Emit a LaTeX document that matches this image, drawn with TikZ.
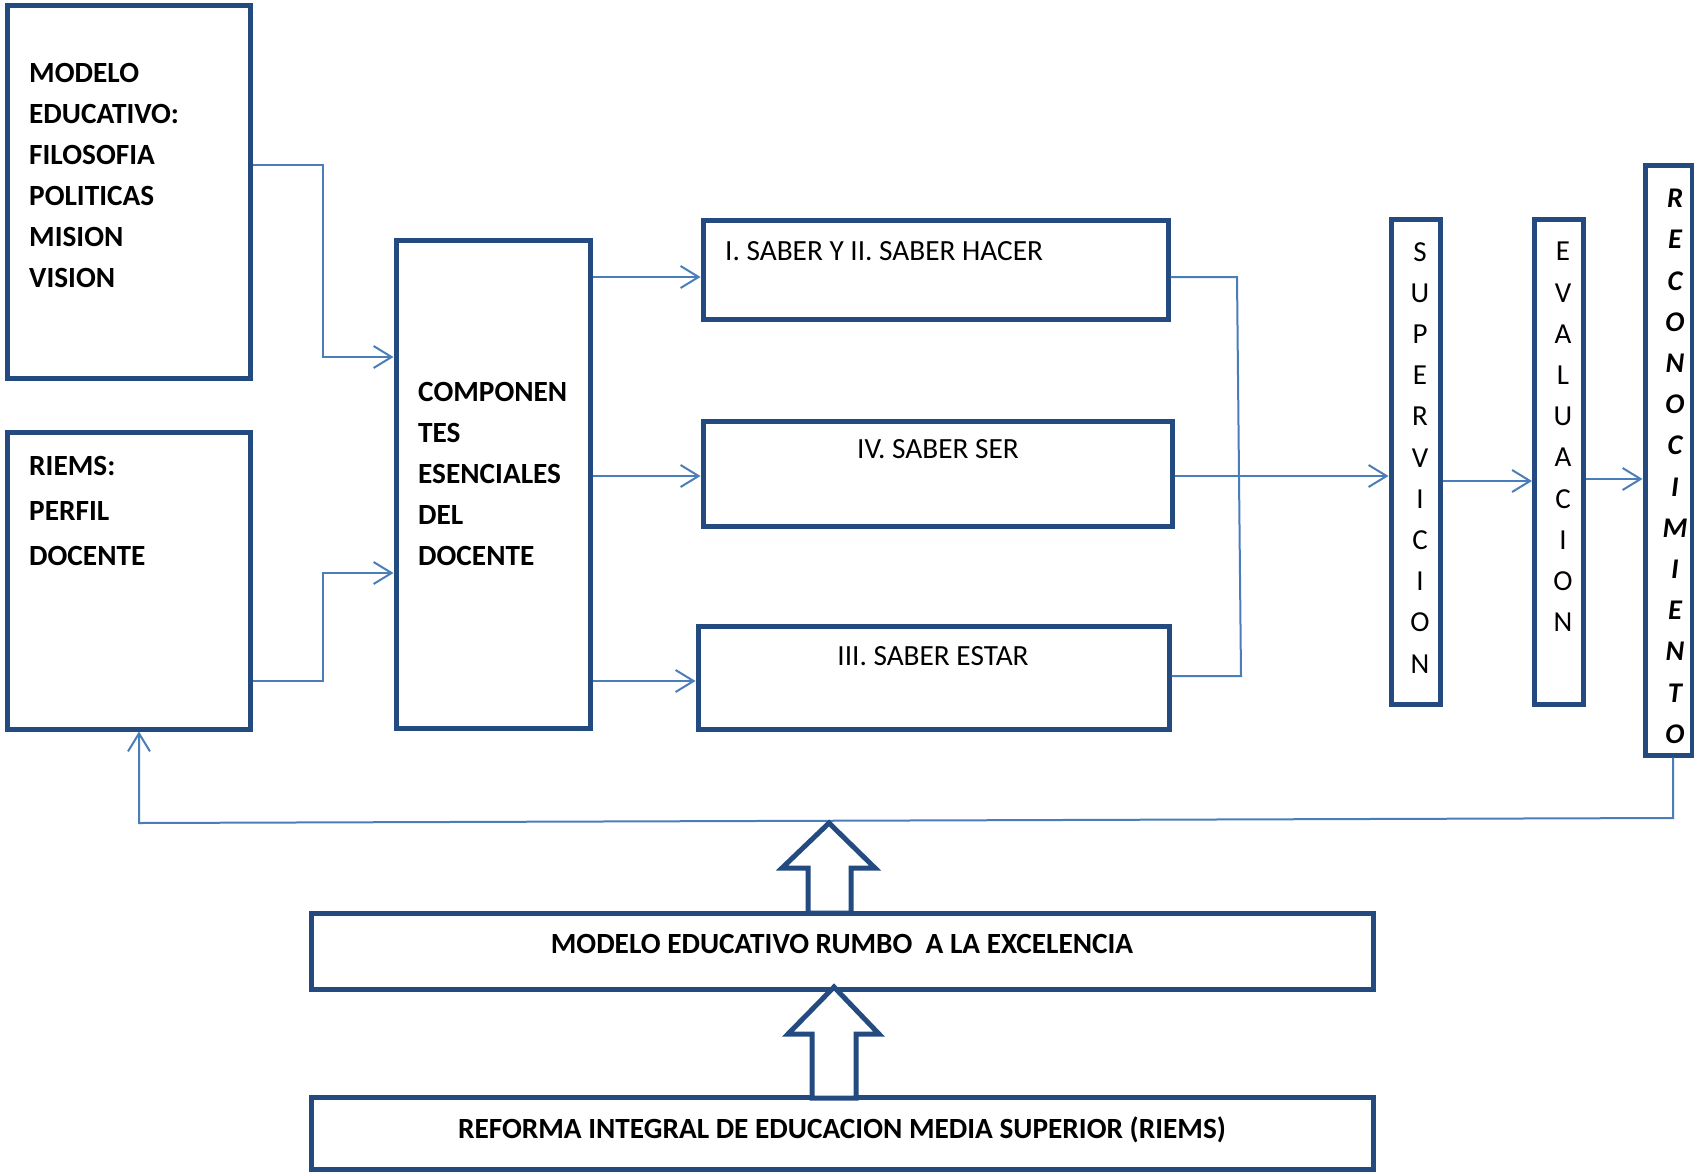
\documentclass[tikz,border=0pt]{standalone}
\usepackage{fontspec}
\setmainfont{Carlito}
\usetikzlibrary{arrows.meta,calc}
\definecolor{boxblue}{RGB}{36,75,128}
\definecolor{linkblue}{RGB}{74,126,187}
\begin{document}
\begin{tikzpicture}[x=1pt,y=-1pt,
  frame/.style={draw=boxblue,line width=5pt,fill=white,inner sep=0pt,rectangle},
  link/.style={draw=linkblue,line width=2pt},
  linkarrow/.style={link,-{Straight Barb[length=18pt,width=22pt,line width=2pt]}},
  boldtxt/.style={font=\fontsize{29.3}{41}\selectfont\bfseries,align=left,inner sep=0pt,anchor=north west},
  plaintxt/.style={font=\fontsize{29.3}{34}\selectfont,inner sep=0pt},
  headtxt/.style={font=\fontsize{29.3}{34}\selectfont\bfseries,inner sep=0pt,anchor=base},
  stack/.style={font=\fontsize{29}{41.2}\selectfont,align=center,inner sep=0pt,anchor=north},
  stackbi/.style={font=\fontsize{28.5}{41.2}\selectfont\bfseries\itshape,align=center,inner sep=0pt,anchor=north},
  blockarrow/.style={draw=boxblue,line width=5pt,fill=white,line join=miter}
]
\fill[white] (0,0) rectangle (1694,1173);
\useasboundingbox (0,0) rectangle (1694,1173);

% left column
\node[frame,minimum width=243,minimum height=373] (modelo) at (128.5,191.5) {};
\node[frame,minimum width=243,minimum height=297] (riems) at (128.5,580.5) {};
\node[boldtxt] (modelotxt) at (29,63) {MODELO\\EDUCATIVO:\\FILOSOFIA\\POLITICAS\\MISION\\VISION};
\node[boldtxt,font=\fontsize{29.3}{45}\selectfont\bfseries] (riemstxt) at (29,456) {RIEMS:\\PERFIL\\DOCENTE};

% central block
\node[frame,minimum width=194,minimum height=488] (comp) at (493,484) {};
\node[boldtxt] (comptxt) at (418,382) {COMPONEN\\TES\\ESENCIALES\\DEL\\DOCENTE};

% knowledge boxes
\node[frame,minimum width=465,minimum height=99] (s1) at (935.5,269.5) {};
\node[frame,minimum width=469,minimum height=105] (s4) at (937.5,473.5) {};
\node[frame,minimum width=471,minimum height=103] (s3) at (933.5,677.5) {};
\node[plaintxt,anchor=base west] (s1txt) at (725,260) {I. SABER Y II. SABER HACER};
\node[plaintxt,anchor=base] (s4txt) at (938,458) {IV. SABER SER};
\node[plaintxt,anchor=base] (s3txt) at (933,665) {III. SABER ESTAR};

% vertical columns
\node[frame,minimum width=49,minimum height=485] (sup) at (1415.5,461.5) {};
\node[frame,minimum width=49,minimum height=485] (eva) at (1559,461.5) {};
\node[frame,minimum width=47,minimum height=590] (rec) at (1668.5,460) {};
\node[stack] (suptxt) at (1420,242) {S\\U\\P\\E\\R\\V\\I\\C\\I\\O\\N};
\node[stack] (evatxt) at (1563,242) {E\\V\\A\\L\\U\\A\\C\\I\\O\\N};
\node[stackbi] (rectxt) at (1675,189) {R\\E\\C\\O\\N\\O\\C\\I\\M\\I\\E\\N\\T\\O};

% bottom boxes
\node[frame,minimum width=1062,minimum height=76] (rumbo) at (842,951) {};
\node[frame,minimum width=1062,minimum height=72] (reforma) at (842,1133) {};
\node[headtxt] (rumbotxt) at (842,953) {MODELO EDUCATIVO RUMBO \ A LA EXCELENCIA};
\node[headtxt] (reformatxt) at (842,1138) {REFORMA INTEGRAL DE EDUCACION MEDIA SUPERIOR (RIEMS)};

% connectors into the central block
\coordinate (m1) at (323,165);
\coordinate (m2) at (323,357);
\coordinate (r1) at (323,681);
\coordinate (r2) at (323,573);
\draw[linkarrow] (modelo.east |- m1) -- (m1) -- (m2) -- (comp.west |- m2);
\draw[linkarrow] (riems.east |- r1) -- (r1) -- (r2) -- (comp.west |- r2);

% central block to the knowledge boxes
\coordinate (j1) at (1237,277);
\coordinate (j3) at (1241,676);
\draw[linkarrow] (comp.east |- j1) -- (s1.west |- j1);
\draw[linkarrow] (comp.east |- 0,476) -- (s4.west |- 0,476);
\draw[linkarrow] (comp.east |- 0,681) -- (s3.west |- 0,681);

% joining the knowledge boxes
\draw[link] (s1.east |- j1) -- (j1) -- (j3) -- (s3.east |- j3);
\draw[linkarrow] (s4.east |- 0,476) -- (sup.west |- 0,476);
\draw[linkarrow] (sup.east |- 0,481) -- (eva.west |- 0,481);
\draw[linkarrow] (eva.east |- 0,479) -- (rec.west |- 0,479);

% feedback line
\coordinate (f1) at (1673,818);
\coordinate (f2) at (139,823);
\draw[linkarrow] (f1 |- rec.south) -- (f1) -- (f2) -- (f2 |- riems.south);

% block arrows
\draw[blockarrow] (829,823) -- (875,868) -- (851,868) -- (851,913) -- (808,913) -- (808,868) -- (782,868) -- cycle;
\draw[blockarrow] (834,987) -- (879,1034) -- (856,1034) -- (856,1098) -- (812,1098) -- (812,1034) -- (788,1034) -- cycle;
\end{tikzpicture}
\end{document}
